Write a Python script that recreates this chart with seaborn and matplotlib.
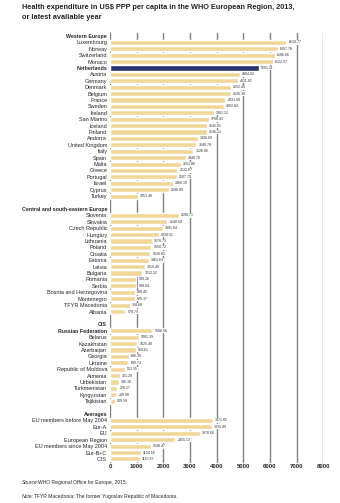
import matplotlib

matplotlib.use("Agg")

import matplotlib.pyplot as plt
import pandas as pd
import seaborn as sns

TITLE = "Health expenditure in US$ PPP per capita in the WHO European Region, 2013,\nor latest available year"

western = ["Luxembourg", "Norway", "Switzerland", "Monaco", "Netherlands", "Austria", "Germany",
           "Denmark", "Belgium", "France", "Sweden", "Ireland", "San Marino", "Iceland", "Finland",
           "Andorra", "United Kingdom", "Italy", "Spain", "Malta", "Greece", "Portugal", "Israel",
           "Cyprus", "Turkey"]
western_vals = [6618.77, 6307.78, 6186.66, 6122.57, 5601.11, 4884.02, 4811.82, 4552.40, 4526.38,
                4333.08, 4262.84, 3901.12, 3708.43, 3645.81, 3636.12, 3308.89, 3240.78, 3126.86,
                2840.70, 2651.86, 2532.07, 2507.79, 2366.10, 2196.89, 1053.48]

central = ["Slovenia", "Slovakia", "Czech Republic", "Hungary", "Lithuania", "Poland", "Croatia",
           "Estonia", "Latvia", "Bulgaria", "Romania", "Serbia", "Bosnia and Herzegovina",
           "Montenegro", "TFYR Macedonia", "Albania"]
central_vals = [2590.71, 2148.58, 1981.84, 1828.01, 1578.73, 1550.72, 1516.85, 1462.64, 1310.40,
                1212.52, 989.16, 988.84, 928.45, 920.37, 758.68, 578.79]

cis = ["Russian Federation", "Belarus", "Kazakhstan", "Azerbaijan", "Georgia", "Ukraine",
       "Republic of Moldova", "Armenia", "Uzbekistan", "Turkmenistan", "Kyrgyzstan", "Tajikistan"]
cis_vals = [1586.56, 1081.39, 1025.48, 968.61, 696.30, 690.73, 553.35, 361.28, 336.38, 276.17,
            239.98, 169.58]

averages = ["EU members before May 2004", "Eur-A", "EU", "European Region",
            "EU members since May 2004", "Eur-B+C", "CIS "]
averages_vals = [3871.05, 3835.49, 3378.66, 2455.13, 1538.47, 1154.58, 1115.87]

headers = ["Western Europe", "Central and south-eastern Europe", "CIS", "Averages"]
bold_labels = headers + ["Netherlands", "Russian Federation"]
highlight = "Netherlands"
x_ticks = [0, 1000, 2000, 3000, 4000, 5000, 6000, 7000, 8000]

order = (["Western Europe"] + western + [""] + ["Central and south-eastern Europe"] + central
         + [" "] + ["CIS"] + cis + ["  "] + ["Averages"] + averages)

df = pd.DataFrame({
    "country": western + central + cis + averages,
    "value": western_vals + central_vals + cis_vals + averages_vals,
})
df["group"] = ["hi" if c == highlight else "normal" for c in df["country"]]

sns.set_style("white")
plt.rcParams["font.family"] = ["Liberation Sans", "DejaVu Sans"]

fig = plt.figure(figsize=(3.4, 5.03), dpi=100)
ax = fig.add_axes([0.3235, 0.08, 0.627, 0.855])

sns.barplot(data=df, x="value", y="country", order=order, hue="group",
            palette={"normal": "#FFDC8C", "hi": "#1B2A78"}, hue_order=["normal", "hi"],
            dodge=False, width=0.8, legend=False, ax=ax)

for cont in ax.containers:
    ax.bar_label(cont, fmt="{:.2f}", padding=1.5, fontsize=2.6, color="#333333",
                 bbox=dict(facecolor="white", edgecolor="none", pad=0.3))

ax.set_xlim(0, 8000)
ax.set_ylim(len(order) - 0.4, -0.5)
ax.set_xticks(x_ticks)
ax.set_xticklabels([str(t) for t in x_ticks], fontsize=4.3, fontweight="bold")
ax.xaxis.grid(True, color="#808080", lw=1.0)
ax.set_axisbelow(True)
ax.tick_params(axis="both", length=0, pad=1)
ax.tick_params(axis="y", labelsize=4.0, pad=2)
for lab in ax.get_yticklabels():
    if lab.get_text() in bold_labels:
        lab.set_fontweight("bold")
        lab.set_fontsize(3.8)
ax.set_xlabel("")
ax.set_ylabel("")
for s in ax.spines.values():
    s.set_visible(False)

fig.text(0.065, 0.992, TITLE, fontsize=5.3, va="top", ha="left", color="#222222",
         linespacing=1.55, fontweight="bold")
fig.text(0.065, 0.040, "Source:", fontsize=3.6, style="italic", ha="left", va="center")
fig.text(0.113, 0.040, "WHO Regional Office for Europe, 2015.", fontsize=3.6, ha="left", va="center")
fig.text(0.065, 0.012, "Note:", fontsize=3.6, style="italic", ha="left", va="center")
fig.text(0.101, 0.012, "TFYR Macedonia: The former Yugoslav Republic of Macedonia.", fontsize=3.6,
         ha="left", va="center")

fig.savefig("out.png", dpi=100)
